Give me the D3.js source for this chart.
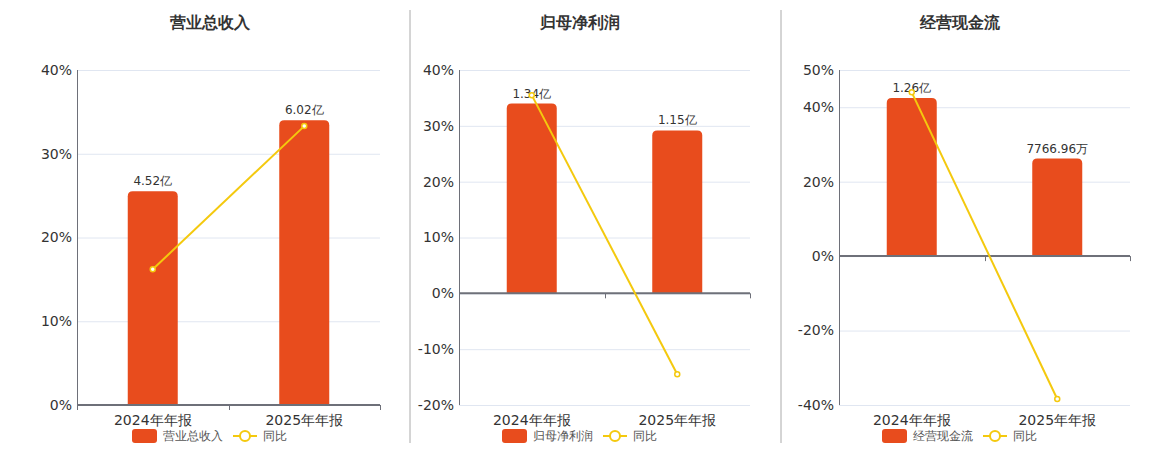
<!DOCTYPE html>
<html>
<head>
<meta charset="utf-8">
<script src="https://cdn.jsdelivr.net/npm/d3@7"></script>
<style>
    body { margin: 0; background: #fff; }
    svg { font-family: "DejaVu Sans", sans-serif; }
</style>
</head>
<body>
<svg width="1160" height="450"></svg>
<script>
"use strict"

// данные
const categories = ['2024年年报', '2025年年报']
const titles = ['营业总收入', '归母净利润', '经营现金流']
const legendLine = '同比'

const revenue = [4.52, 6.02]
const revenueLabels = ['4.52亿', '6.02亿']
const revenueYoy = [16.2, 33.3]
const revenueTicks = [0, 10, 20, 30, 40]

const profit = [1.34, 1.15]
const profitLabels = ['1.34亿', '1.15亿']
const profitYoy = [35.5, -14.5]
const profitTicks = [-20, -10, 0, 10, 20, 30, 40]

const cashFlow = [1.26, 0.776696]
const cashFlowLabels = ['1.26亿', '7766.96万']
const cashFlowYoy = [44.0, -38.4]
const cashFlowTicks = [-40, -20, 0, 20, 40, 50]

const barColor = '#e84c1d'
const lineColor = '#f4c90e'

// области вывода для каждой панели
const panels = [
    { title: titles[0], bars: revenue, labels: revenueLabels, yoy: revenueYoy, ticks: revenueTicks,
      left: 77, right: 380, center: 210, divider: null },
    { title: titles[1], bars: profit, labels: profitLabels, yoy: profitYoy, ticks: profitTicks,
      left: 459, right: 750, center: 580, divider: 410 },
    { title: titles[2], bars: cashFlow, labels: cashFlowLabels, yoy: cashFlowYoy, ticks: cashFlowTicks,
      left: 839, right: 1130, center: 960, divider: 781 }
]

const attr_area = { top: 70, bottom: 405 }

function barPath(x, y, w, h, r) {
    // прямоугольник со скруглёнными верхними углами
    return `M${x},${y + h}V${y + r}Q${x},${y} ${x + r},${y}H${x + w - r}Q${x + w},${y} ${x + w},${y + r}V${y + h}Z`
}

function drawPanel(svg, p) {
    const g = svg.append('g')

    const scX = d3.scaleBand()
        .domain(categories)
        .range([p.left, p.right])

    const scY = d3.scaleLinear()
        .domain(d3.extent(p.ticks))
        .range([attr_area.bottom, attr_area.top])

    const zeroY = scY(0)
    // скрытая шкала для столбцов (максимум занимает 85% положительной части)
    const scBar = d3.scaleLinear()
        .domain([0, d3.max(p.bars) / 0.85])
        .range([zeroY, scY(d3.max(p.ticks))])

    if (p.divider !== null) {
        g.append('line')
            .attr('x1', p.divider).attr('x2', p.divider)
            .attr('y1', 10).attr('y2', 443)
            .style('stroke', '#aaa')
            .style('stroke-width', 1)
    }

    // заголовок
    g.append('text')
        .attr('x', p.center)
        .attr('y', 28)
        .attr('text-anchor', 'middle')
        .style('font-size', '15.5px')
        .style('font-weight', 'bold')
        .style('fill', '#333')
        .text(p.title)

    // сетка
    g.selectAll('.grid')
        .data(p.ticks)
        .enter()
        .append('line')
        .attr('x1', p.left).attr('x2', p.right)
        .attr('y1', d => scY(d) + 0.5).attr('y2', d => scY(d) + 0.5)
        .style('stroke', '#e0e6f1')

    // ось OY
    g.append('line')
        .attr('x1', p.left + 0.5).attr('x2', p.left + 0.5)
        .attr('y1', attr_area.top).attr('y2', attr_area.bottom)
        .style('stroke', '#6e7079')

    g.selectAll('.ylab')
        .data(p.ticks)
        .enter()
        .append('text')
        .attr('x', p.left - 5)
        .attr('y', d => scY(d))
        .attr('dy', '.35em')
        .attr('text-anchor', 'end')
        .style('font-size', '14px')
        .style('fill', '#333')
        .text(d => d + '%')

    // столбцы
    const bw = 50
    g.selectAll('.bar')
        .data(p.bars)
        .enter()
        .append('path')
        .attr('d', (d, i) => {
            const x = scX(categories[i]) + scX.bandwidth() / 2 - bw / 2
            const y = scBar(d)
            return barPath(x, y, bw, zeroY - y, 5)
        })
        .style('fill', barColor)

    g.selectAll('.barlab')
        .data(p.bars)
        .enter()
        .append('text')
        .attr('x', (d, i) => scX(categories[i]) + scX.bandwidth() / 2)
        .attr('y', d => scBar(d) - 6)
        .attr('text-anchor', 'middle')
        .style('font-size', '12px')
        .style('fill', '#333')
        .text((d, i) => p.labels[i])

    // ось OX на нуле
    g.append('line')
        .attr('x1', p.left).attr('x2', p.right)
        .attr('y1', zeroY).attr('y2', zeroY)
        .style('stroke', '#6e7079')
        .style('stroke-width', 2)

    const bounds = categories.map(c => scX(c)).concat([p.right])
    g.selectAll('.xtick')
        .data(bounds)
        .enter()
        .append('line')
        .attr('x1', d => Math.round(d) + 0.5).attr('x2', d => Math.round(d) + 0.5)
        .attr('y1', zeroY).attr('y2', zeroY + 5)
        .style('stroke', '#6e7079')

    g.selectAll('.xlab')
        .data(categories)
        .enter()
        .append('text')
        .attr('x', d => scX(d) + scX.bandwidth() / 2)
        .attr('y', attr_area.bottom + 20)
        .attr('text-anchor', 'middle')
        .style('font-size', '14px')
        .style('fill', '#333')
        .text(d => d)

    // линия "同比"
    const lineF = d3.line()
        .x((d, i) => scX(categories[i]) + scX.bandwidth() / 2)
        .y(d => scY(d))

    g.append('path')
        .datum(p.yoy)
        .attr('d', lineF)
        .style('fill', 'none')
        .style('stroke', lineColor)
        .style('stroke-width', 2)

    g.selectAll('.dot')
        .data(p.yoy)
        .enter()
        .append('circle')
        .attr('cx', (d, i) => scX(categories[i]) + scX.bandwidth() / 2)
        .attr('cy', d => scY(d))
        .attr('r', 2.5)
        .style('fill', '#fff')
        .style('stroke', lineColor)
        .style('stroke-width', 1.5)

    // легенда
    const legend = g.append('g')
        .attr('transform', `translate(${p.center}, 436)`)

    legend.append('rect')
        .attr('x', -78).attr('y', -7)
        .attr('width', 25).attr('height', 14)
        .attr('rx', 3)
        .style('fill', barColor)

    legend.append('text')
        .attr('x', -47).attr('y', 0)
        .attr('dy', '.35em')
        .style('font-size', '12px')
        .style('fill', '#555')
        .text(p.title)

    legend.append('line')
        .attr('x1', 23).attr('x2', 47)
        .attr('y1', 0).attr('y2', 0)
        .style('stroke', lineColor)
        .style('stroke-width', 2)

    legend.append('circle')
        .attr('cx', 35).attr('cy', 0).attr('r', 5)
        .style('fill', '#fff')
        .style('stroke', lineColor)
        .style('stroke-width', 2)

    legend.append('text')
        .attr('x', 53).attr('y', 0)
        .attr('dy', '.35em')
        .style('font-size', '12px')
        .style('fill', '#555')
        .text(legendLine)
}

const svg = d3.select('svg')
panels.forEach(p => drawPanel(svg, p))
</script>
</body>
</html>
